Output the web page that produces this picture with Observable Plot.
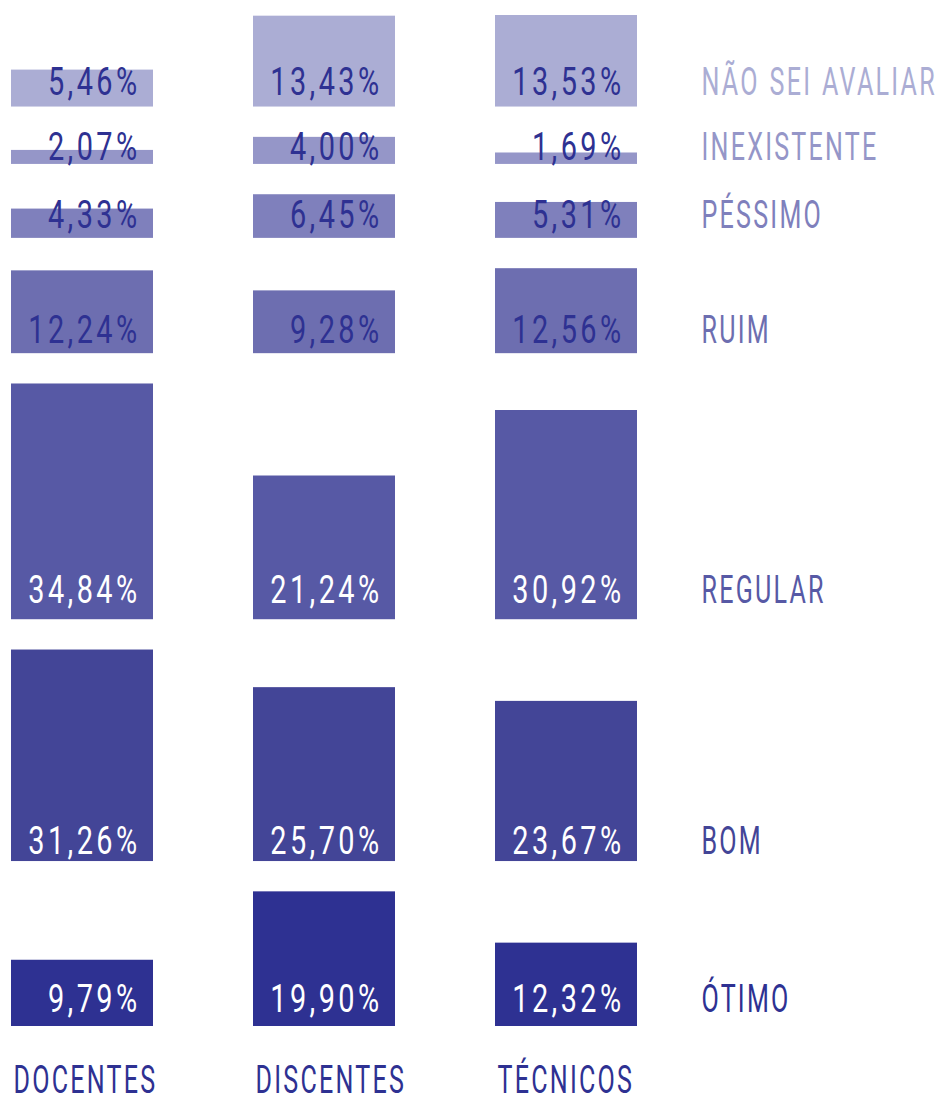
<!DOCTYPE html>
<html><head><meta charset="utf-8">
<script src="https://cdn.jsdelivr.net/npm/d3@7"></script>
<script src="https://cdn.jsdelivr.net/npm/@observablehq/plot@0.6"></script>
<style>
body{margin:0;background:#fff}
</style>
</head><body><div id="chart"></div>
<script>
const groups = ["DOCENTES","DISCENTES","TÉCNICOS"];
const categories = ["NÃO SEI AVALIAR","INEXISTENTE","PÉSSIMO","RUIM","REGULAR","BOM","ÓTIMO"];
const docentes  = [5.46, 2.07, 4.33, 12.24, 34.84, 31.26, 9.79];
const discentes = [13.43, 4.00, 6.45, 9.28, 21.24, 25.70, 19.90];
const tecnicos  = [13.53, 1.69, 5.31, 12.56, 30.92, 23.67, 12.32];

// styling / layout (not data)
const colors   = ["#abadd4","#9596c8","#7f80bc","#6d6eb0","#5759a5","#434597","#2e3192"];
const labelInk = ["#2e3192","#2e3192","#2e3192","#2e3192","#ffffff","#ffffff","#ffffff"];
const lift = [12, 4, 10, 11, 17, 8, 15];
const gap = 4.48;
const FONT = "Roboto, 'DejaVu Sans Condensed', sans-serif";
const FS = 38;

const series = [docentes, discentes, tecnicos];
const maxes = categories.map((c, i) => d3.max(series, s => s[i]));
const base = new Array(categories.length);
let acc = 0;
for (let i = categories.length - 1; i >= 0; i--) {
  base[i] = acc;
  acc += maxes[i] + (i > 0 ? gap : 0);
}
const total = acc;

const rows = [];
categories.forEach((c, i) => groups.forEach((g, j) => rows.push({
  category: c, group: g, value: series[j][i], y1: base[i], y2: base[i] + series[j][i], ci: i
})));
const fmt = v => v.toFixed(2).replace(".", ",") + "%";

const marks = [
  Plot.barY(rows, {x: "group", y1: "y1", y2: "y2", fill: "category"})
];
categories.forEach((c, i) => {
  marks.push(Plot.text(rows.filter(r => r.ci === i), {
    x: "group", y: "y1", text: d => fmt(d.value),
    textAnchor: "end", lineAnchor: "bottom", dx: 58, dy: -lift[i],
    fill: labelInk[i], fontSize: FS, fontWeight: 400, fontFamily: FONT
  }));
  marks.push(Plot.text([c], {
    y: () => base[i], text: d => d, frameAnchor: "right",
    textAnchor: "start", lineAnchor: "bottom", dx: 64, dy: -lift[i],
    fill: colors[i], fontSize: FS, fontWeight: 400, fontFamily: FONT
  }));
});
marks.push(Plot.text(groups, {
  x: d => d, text: d => d, frameAnchor: "bottom",
  textAnchor: "start", lineAnchor: "bottom", dx: -69, dy: 66,
  fill: "#2e3192", fontSize: FS, fontWeight: 400, fontFamily: FONT
}));

const chart = Plot.plot({
  width: 941, height: 1095,
  marginLeft: 11, marginRight: 304, marginTop: 15, marginBottom: 69,
  x: {domain: groups, axis: null, paddingInner: 100/242, paddingOuter: 0},
  y: {domain: [0, total], axis: null},
  color: {domain: categories, range: colors},
  style: {background: "#fff", fontFamily: FONT},
  marks
});
document.getElementById("chart").append(chart);

// condense the type horizontally (the reference uses a narrow face)
d3.select(chart).selectAll("text").each(function() {
  const t = this.getAttribute("transform") || "";
  const isValue = /%$/.test(this.textContent);
  this.setAttribute("transform", t + (isValue ? " scale(0.76,1)" : " scale(0.66,1)"));
  this.setAttribute("letter-spacing", isValue ? "4.5px" : "3.4px");
  if (/ /.test(this.textContent)) this.setAttribute("word-spacing", "2px");
});
</script>
</body></html>
